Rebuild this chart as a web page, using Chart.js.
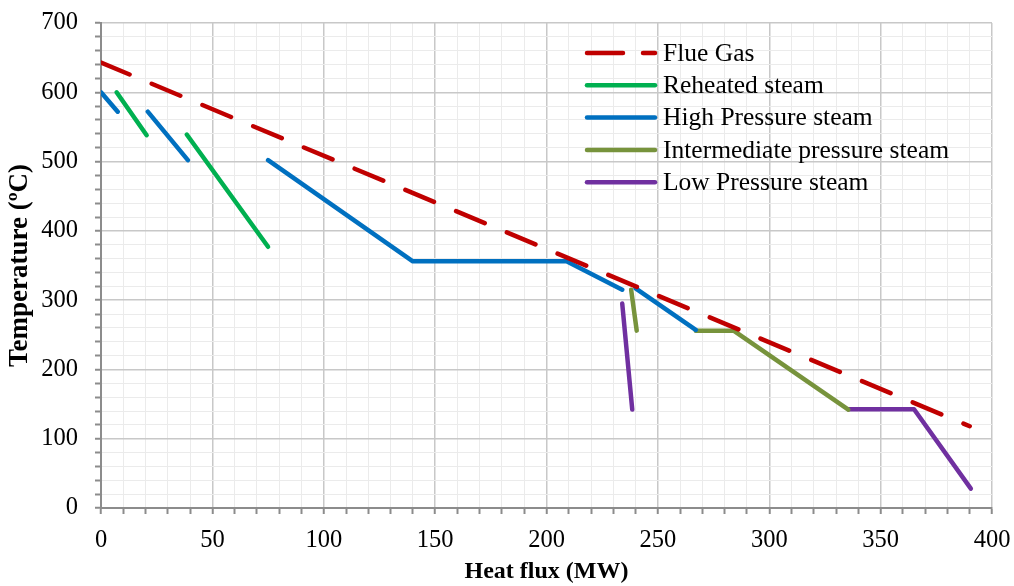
<!DOCTYPE html>
<html>
<head>
<meta charset="utf-8">
<script src="https://cdn.jsdelivr.net/npm/chart.js@4"></script>
<style>
  html, body { margin: 0; padding: 0; background: #fff; }
  #wrap { width: 1014px; height: 586px; }
</style>
</head>
<body>
<div id="wrap"><canvas id="chart"></canvas></div>
<script>
// valeurs (null = coupure)
const flueX = [0, 390];
const flueY = [643, 118];
const reheatX = [7, 20.5, null, 38.5, 75];
const reheatY = [600, 538, null, 539, 377];
const hpX = [0, 7.5, null, 21, 39, null, 75, 140, 209, 234, null, 240, 267];
const hpY = [600, 572, null, 572, 502, null, 502, 356, 356, 315, null, 317, 257];
const ipX = [238, 240.5, null, 267, 284, 335.5];
const ipY = [315, 256, null, 256, 256, 142];
const lpX = [234, 238.5, null, 335.5, 365, 390.5];
const lpY = [295, 142, null, 142.5, 142.5, 28];

const labels = ["Flue Gas", "Reheated steam", "High Pressure steam", "Intermediate pressure steam", "Low Pressure steam"];
const xTicks = [0, 50, 100, 150, 200, 250, 300, 350, 400];
const yTicks = [0, 100, 200, 300, 400, 500, 600, 700];

const FONT = "'Liberation Serif', 'Times New Roman', serif";

function pts(xs, ys) {
  return xs.map((x, i) => ({ x: x === null ? xs[i - 1] : x, y: ys[i] }));
}

const series = [
  { label: labels[0], data: pts(flueX, flueY), color: "#C00000", dash: [31, 24] },
  { label: labels[1], data: pts(reheatX, reheatY), color: "#00B050" },
  { label: labels[2], data: pts(hpX, hpY), color: "#0070C0" },
  { label: labels[3], data: pts(ipX, ipY), color: "#77933C" },
  { label: labels[4], data: pts(lpX, lpY), color: "#7030A0" }
];

// légende dessinée dans la zone du graphique
const legendPlugin = {
  id: "insideLegend",
  afterDraw(chart) {
    const c = chart.ctx;
    c.save();
    c.font = "25.5px " + FONT;
    c.textBaseline = "middle";
    c.fillStyle = "#000";
    chart.data.datasets.forEach((ds, i) => {
      const y = 53 + i * 32.3;
      c.strokeStyle = ds.borderColor;
      c.lineWidth = 4.5;
      c.lineCap = "round";
      c.beginPath();
      if (ds.borderDash && ds.borderDash.length) {
        c.moveTo(587, y); c.lineTo(623, y);
        c.moveTo(643, y); c.lineTo(655, y);
      } else {
        c.moveTo(587, y); c.lineTo(655, y);
      }
      c.stroke();
      c.fillText(ds.label, 663, y + 1);
    });
    c.restore();
  }
};

new Chart(document.getElementById("chart"), {
  type: "line",
  data: {
    datasets: series.map(s => ({
      label: s.label,
      data: s.data,
      borderColor: s.color,
      backgroundColor: s.color,
      borderWidth: 4.5,
      borderDash: s.dash || [],
      borderCapStyle: "round",
      borderJoinStyle: "round",
      pointRadius: 0,
      tension: 0,
      spanGaps: false
    }))
  },
  options: {
    responsive: true,
    maintainAspectRatio: false,
    animation: false,
    layout: { padding: { top: 23, right: 22, left: 0, bottom: 0 } },
    plugins: { legend: { display: false }, tooltip: { enabled: false } },
    scales: {
      x: {
        type: "linear",
        min: 0, max: 400,
        afterFit: s => { s.height = 78; s.paddingLeft = 0; s.paddingRight = 0; },
        ticks: {
          stepSize: 10, autoSkip: false, maxRotation: 0,
          color: "#000", padding: 12,
          font: { family: FONT, size: 24.5 },
          callback: v => xTicks.includes(v) ? v : ""
        },
        grid: {
          color: ctx => ctx.tick && ctx.tick.value % 50 === 0 ? "#c8c8c8" : "#ebebeb",
          lineWidth: ctx => ctx.tick && ctx.tick.value % 50 === 0 ? 1.5 : 1,
          tickColor: "#8c8c8c", tickLength: 6, tickWidth: 2
        },
        border: { color: "#8c8c8c", width: 2 },
        title: {
          display: true, text: "Heat flux (MW)", color: "#000",
          font: { family: FONT, size: 24, weight: "bold" },
          padding: { top: 0, bottom: 0 }
        }
      },
      y: {
        min: 0, max: 700,
        afterFit: s => { s.width = 101; s.paddingTop = 0; s.paddingBottom = 0; },
        ticks: {
          stepSize: 20, autoSkip: false,
          color: "#000", padding: 17,
          font: { family: FONT, size: 24.5 },
          callback: v => yTicks.includes(v) ? v : ""
        },
        grid: {
          color: ctx => ctx.tick && ctx.tick.value % 100 === 0 ? "#c8c8c8" : "#ebebeb",
          lineWidth: ctx => ctx.tick && ctx.tick.value % 100 === 0 ? 1.5 : 1,
          tickColor: "#8c8c8c", tickLength: 6, tickWidth: 2
        },
        border: { color: "#8c8c8c", width: 2 },
        title: {
          display: true, text: "Temperature (ºC)", color: "#000",
          font: { family: FONT, size: 27, weight: "bold" },
          padding: { top: 4, bottom: 0 }
        }
      }
    }
  },
  plugins: [legendPlugin]
});
</script>
</body>
</html>
